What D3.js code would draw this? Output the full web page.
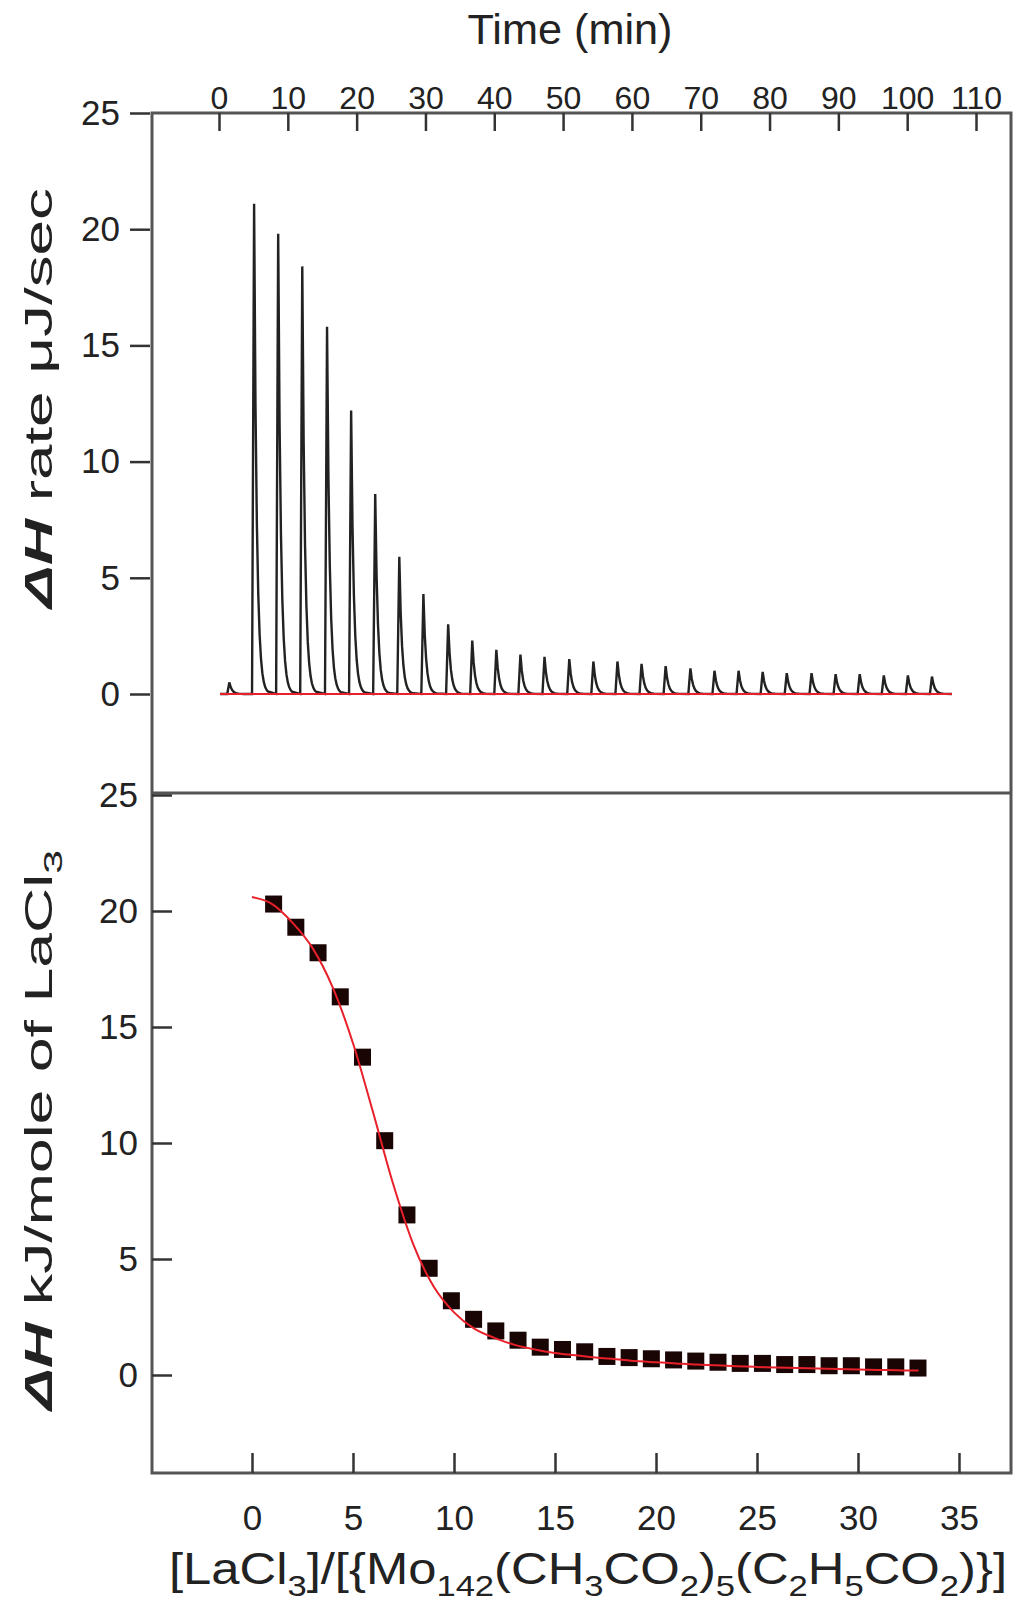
<!DOCTYPE html>
<html><head><meta charset="utf-8">
<script src="https://cdn.jsdelivr.net/npm/d3@7"></script>
<style>body{margin:0;background:#fff}text{font-family:"Liberation Sans",Arial,sans-serif;fill:#222}</style>
</head><body>
<svg id="c" width="1024" height="1612"></svg>
<script>
// Top panel: injection peaks
const peakTimes = [1.5,5.1,8.6,12.1,15.7,19.2,22.7,26.2,29.7,33.3,36.8,40.3,43.8,47.3,50.9,54.4,57.9,61.4,64.9,68.5,72.0,75.5,79.0,82.5,86.1,89.6,93.1,96.6,100.1,103.6];
const peakHeights = [0.5,21.1,19.8,18.4,15.8,12.2,8.6,5.9,4.3,3.0,2.3,1.9,1.7,1.6,1.5,1.4,1.4,1.3,1.2,1.1,1.0,1.0,0.95,0.9,0.9,0.85,0.85,0.8,0.8,0.75];
const baselineRange = [0.15, 106.5];
const timeTicks = [0,10,20,30,40,50,60,70,80,90,100,110];
const rateTicks = [0,5,10,15,20,25];
// Bottom panel: integrated heats
const ratio = [1.07,2.17,3.27,4.37,5.47,6.57,7.67,8.77,9.87,10.97,12.07,13.17,14.27,15.37,16.47,17.57,18.67,19.77,20.87,21.97,23.07,24.17,25.27,26.37,27.47,28.57,29.67,30.77,31.87,32.97];
const heat = [20.3,19.3,18.2,16.3,13.7,10.1,6.9,4.6,3.2,2.4,1.9,1.5,1.2,1.1,1.0,0.8,0.75,0.7,0.65,0.6,0.55,0.5,0.5,0.45,0.45,0.4,0.4,0.35,0.35,0.3];
const fitX = [0,1,2,3,4,5,6,7,8,9,10,11,12,13,14,15,16,17,18,19,20,21,22,23,24,25,26,27,28,29,30,31,32,33];
const fitY = [20.6,20.3,19.5,18.4,16.7,14.3,11.3,8.2,5.6,3.8,2.7,2.0,1.6,1.3,1.1,0.95,0.85,0.75,0.68,0.6,0.55,0.5,0.45,0.42,0.38,0.35,0.32,0.3,0.28,0.26,0.24,0.22,0.2,0.19];
const ratioTicks = [0,5,10,15,20,25,30,35];
const heatTicks = [0,5,10,15,20,25];

const svg = d3.select("#c");
const L=152, R=1011, T=113, M=793, B=1473;
const xT = d3.scaleLinear().domain([0,110]).range([219,976]);
const yT = d3.scaleLinear().domain([0,25]).range([694,113]);
const xB = d3.scaleLinear().domain([0,35]).range([252,959]);
const yB = d3.scaleLinear().domain([0,25]).range([1375,795]);

// peaks
const pts=[];
pts.push([baselineRange[0],0]);
peakTimes.forEach((t,i)=>{
  const h=peakHeights[i];
  pts.push([t-0.3,0]); pts.push([t,h]);
  for(let k=1;k<=10;k++){const dt=k*0.2; pts.push([t+dt,h*Math.exp(-dt/0.38)]);}
});
pts.push([baselineRange[1],0]);
svg.append("path").attr("d",d3.line().x(d=>xT(d[0])).y(d=>yT(d[1]))(pts))
  .attr("fill","none").attr("stroke","#222").attr("stroke-width",2.4);
svg.append("line").attr("x1",xT(baselineRange[0])).attr("x2",xT(baselineRange[1]))
  .attr("y1",yT(0)).attr("y2",yT(0)).attr("stroke","#e8202a").attr("stroke-width",2.2);

// frame
const g=svg.append("g").attr("stroke","#555").attr("stroke-width",3).attr("fill","none");
g.append("rect").attr("x",L).attr("y",T).attr("width",R-L).attr("height",B-T);
g.append("line").attr("x1",L).attr("x2",R).attr("y1",M).attr("y2",M);

// axes
const fs="35px";
const ax1=svg.append("g").attr("transform",`translate(0,${T})`).call(d3.axisTop(xT).tickValues(timeTicks).tickSize(-18).tickPadding(-2));
const ax2=svg.append("g").attr("transform",`translate(${L},0)`).call(d3.axisLeft(yT).tickValues(rateTicks).tickSize(18).tickPadding(14));
const ax3=svg.append("g").attr("transform",`translate(0,${B})`).call(d3.axisBottom(xB).tickValues(ratioTicks).tickSize(-20).tickPadding(32));
const ax4=svg.append("g").attr("transform",`translate(${L},0)`).call(d3.axisLeft(yB).tickValues(heatTicks).tickSize(-20).tickPadding(14));
ax1.selectAll(".tick text").attr("dy","-6");
ax2.selectAll(".tick line").attr("x1",-2).attr("x2",-22);
[ax1,ax2,ax3,ax4].forEach(a=>{a.select(".domain").remove();a.selectAll(".tick line").attr("stroke","#333").attr("stroke-width",2.5);
  a.selectAll(".tick text").style("font-size",fs).style("fill","#222").attr("font-family","Liberation Sans, Arial")
   .attr("transform",a===ax1?null:null);});
ax1.selectAll(".tick text").style("font-size","32px");

// points & fit
svg.append("g").selectAll("rect").data(ratio).join("rect")
  .attr("x",(d)=>xB(d)-8.5).attr("y",(d,i)=>yB(heat[i])-8.5).attr("width",17).attr("height",17).attr("fill","#1a0505");
svg.append("path").attr("d",d3.line().curve(d3.curveMonotoneX).x((d)=>xB(d)).y((d,i)=>yB(fitY[i]))(fitX))
  .attr("fill","none").attr("stroke","#e8202a").attr("stroke-width",2);

// titles
svg.append("text").attr("x",570).attr("y",44).attr("text-anchor","middle").style("font-size","42px")
  .attr("textLength",205).attr("lengthAdjust","spacingAndGlyphs").text("Time (min)");
const t1=svg.append("text").attr("transform","translate(52,398) rotate(-90)").attr("text-anchor","middle").style("font-size","38px")
  .attr("textLength",420).attr("lengthAdjust","spacingAndGlyphs");
t1.append("tspan").style("font-style","italic").style("font-weight","bold").text("ΔH");
t1.append("tspan").text(" rate μJ/sec");
const t2=svg.append("text").attr("transform","translate(52,1130) rotate(-90)").attr("text-anchor","middle").style("font-size","38px")
  .attr("textLength",560).attr("lengthAdjust","spacingAndGlyphs");
t2.append("tspan").style("font-style","italic").style("font-weight","bold").text("ΔH");
t2.append("tspan").text(" kJ/mole of LaCl");
t2.append("tspan").attr("dy",10).style("font-size","26px").text("3");
const t3=svg.append("text").attr("x",588).attr("y",1584).attr("text-anchor","middle").style("font-size","44px")
  .attr("textLength",838).attr("lengthAdjust","spacingAndGlyphs");
const parts=[["[LaCl"],["3",1],["]/[{Mo"],["142",1],["(CH"],["3",1],["CO"],["2",1],[")"],["5",1],["(C"],["2",1],["H"],["5",1],["CO"],["2",1],[")}]"]];
let sub=false;
parts.forEach(([s,isSub])=>{
  const dy = isSub&&!sub?12:(!isSub&&sub?-12:0);
  t3.append("tspan").attr("dy",dy).style("font-size",isSub?"30px":"44px").text(s);
  sub=!!isSub;
});
</script>
</body></html>
